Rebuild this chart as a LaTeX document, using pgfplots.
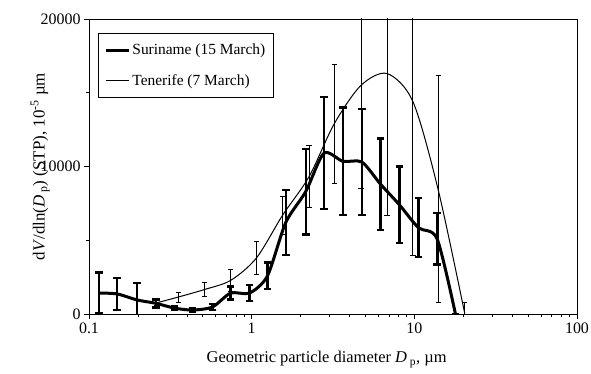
\documentclass[border=0pt]{standalone}
\usepackage{pgfplots}
\pgfplotsset{compat=1.18}
\usepackage{pgfplotstable}
\usepackage{fontspec}
\setmainfont{Liberation Serif}
\pgfplotstableread{
x y err
0.115 1420 1380
0.149 1360 1100
0.198 950 1150
0.259 720 270
0.335 400 120
0.433 270 100
0.574 475 200
0.743 1420 450
0.97 1420 550
1.25 2580 900
1.62 6200 2200
2.15 8300 2900
2.78 10900 3800
3.64 10350 3650
4.76 10300 3600
6.2 8800 3100
8.1 7400 2600
10.6 5850 2000
13.8 5100 1750
17.9 0 0
}\suriname
\pgfplotstableread{
x y err
0.259 750 200
0.354 1150 340
0.513 1660 500
0.743 2280 750
1.07 3800 1120
1.55 6700 1300
2.25 9300 2100
3.22 12900 4050
4.7 15500 7000
6.8 16300 9600
9.8 14400 10400
14.0 8450 7700
20.4 50 700
}\tenerife
\begin{document}
\begin{tikzpicture}
\path[use as bounding box] (-89bp,-60bp) rectangle (502bp,314bp);
\begin{axis}[
  scale only axis, width=488bp, height=295bp,
  xmode=log, xmin=0.1, xmax=100, ymin=0, ymax=20000,
  xtick={0.1,1,10,100}, xticklabels={0.1,1,10,100},
  ytick={0,10000,20000}, yticklabels={0,10000,20000},
  scaled y ticks=false,
  minor ytick={5000,15000},
  tick align=outside, tick pos=left,
  major tick length=5bp, minor tick length=3bp,
  axis line style={line width=0.8bp},
  every tick/.style={black, line width=0.8bp},
  tick label style={font=\fontsize{16}{18}\selectfont},
  xlabel={Geometric particle diameter \textit{D}\,\textsubscript{p}, µm},
  ylabel={d\textit{V}/dln(\textit{D}\,\textsubscript{p}) (STP), 10\textsuperscript{-5} µm},
  xlabel style={font=\fontsize{16.5}{18}\selectfont, at={(axis description cs:0.487,-0.115)}, anchor=north},
  ylabel style={font=\fontsize{17}{19}\selectfont, at={(axis description cs:-0.1,0.5)}, anchor=center},
  legend style={at={(axis description cs:0.0185,0.953)}, anchor=north west,
    font=\fontsize{15.5}{17}\selectfont, draw=black, line width=0.8bp,
    inner xsep=6bp, inner ysep=9bp, row sep=14bp},
  legend cell align=left,
  legend image code/.code={\draw[#1] (0bp,0bp) -- (23bp,0bp);},
]
\addplot[black, line width=3bp, smooth, tension=0.45,
  error bars/.cd, y dir=both, y explicit,
  error bar style={line width=2.4bp},
  error mark options={rotate=90, mark size=3.8bp, line width=2.4bp}]
  table[x=x, y=y, y error=err] {\suriname};
\addlegendentry{Suriname (15 March)}
\addplot[black, line width=1bp, smooth, tension=0.5,
  error bars/.cd, y dir=both, y explicit,
  error bar style={line width=0.9bp},
  error mark options={rotate=90, mark size=2.6bp, line width=0.9bp}]
  table[x=x, y=y, y error=err] {\tenerife};
\addlegendentry{Tenerife (7 March)}
\end{axis}
\end{tikzpicture}
\end{document}
